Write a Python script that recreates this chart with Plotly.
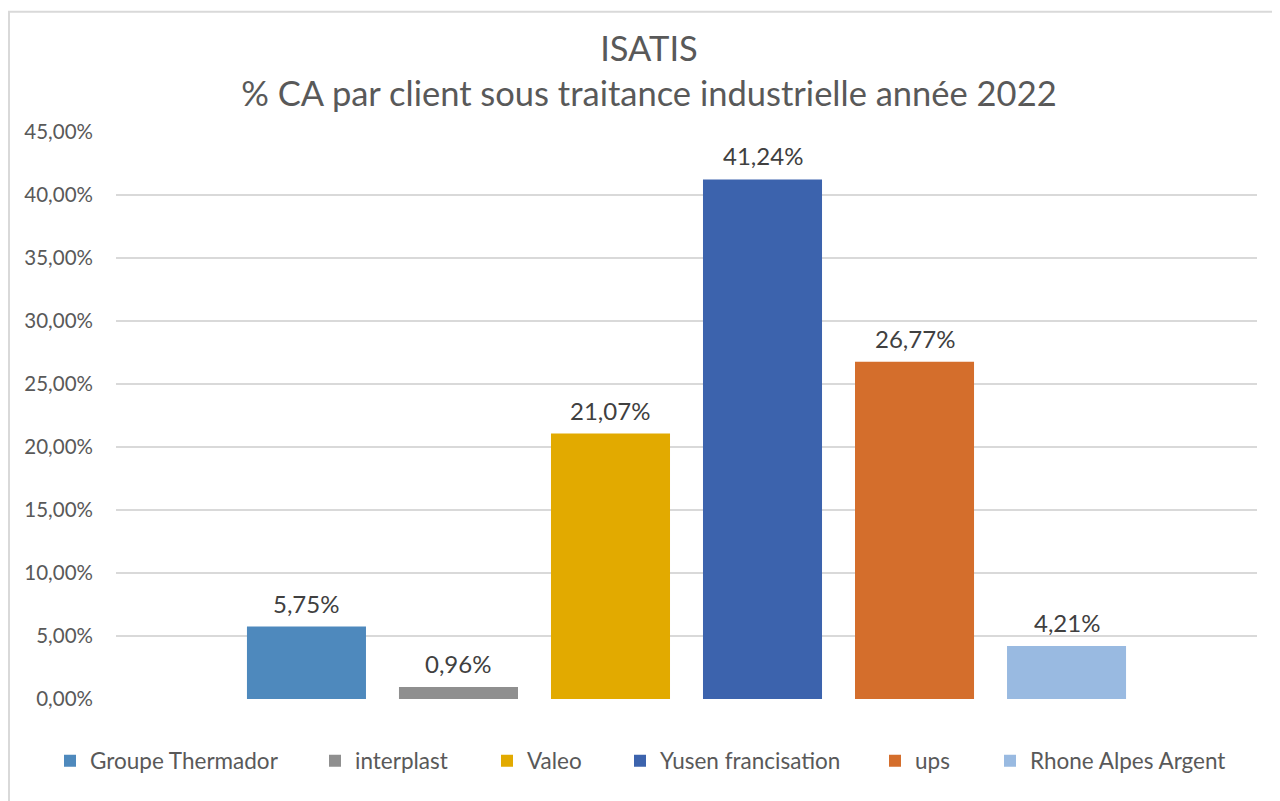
import plotly.graph_objects as go

clients = ["Groupe Thermador", "interplast", "Valeo", "Yusen francisation", "ups", "Rhone Alpes Argent"]
values = [0.0575, 0.0096, 0.2107, 0.4124, 0.2677, 0.0421]
labels = ["5,75%", "0,96%", "21,07%", "41,24%", "26,77%", "4,21%"]
colors = ["#4E89BD", "#8F8F8F", "#E2AA00", "#3C63AD", "#D46E2C", "#99BAE1"]
y_ticks = [0, 0.05, 0.10, 0.15, 0.20, 0.25, 0.30, 0.35, 0.40, 0.45]

# layout: legend text start positions (page pixels)
legend_text_px = [90, 355, 527, 660, 915, 1030]
OFF = 8  # body margin of the html page

FONT = "Lato"
TXT = "#595959"

fig = go.Figure()
legend_ids = ["legend"] + [f"legend{i}" for i in range(2, len(clients) + 1)]
for i, (c, v, col) in enumerate(zip(clients, values, colors)):
    fig.add_trace(go.Bar(
        x=[c], y=[v], name=c, marker=dict(color=col, line=dict(width=0)),
        legend=legend_ids[i], showlegend=True,
    ))
    fig.add_annotation(
        x=c, y=v, text=labels[i], showarrow=False, yanchor="bottom",
        yshift=7, font=dict(family=FONT, size=24, color="#404040"),
    )

layout_legends = {}
for i, lid in enumerate(legend_ids):
    layout_legends[lid] = dict(
        orientation="h", x=(legend_text_px[i] - OFF - 40) / 1280, xref="container",
        xanchor="left", y=1 - (761 - OFF) / 801, yref="container", yanchor="middle",
        font=dict(family=FONT, size=22.5, color=TXT), bgcolor="rgba(0,0,0,0)",
        borderwidth=0, itemwidth=30,
    )

fig.update_layout(
    width=1280, height=801,
    paper_bgcolor="white", plot_bgcolor="white",
    barmode="overlay", bargap=0.217,
    separators=", ",
    margin=dict(l=116 - OFF, r=1280 - (1257 - OFF), t=131.5 - OFF, b=801 - (699.5 - OFF)),
    title=dict(
        text="ISATIS<br>% CA par client sous traitance industrielle année 2022",
        x=(649 - OFF) / 1280, xref="container", xanchor="center",
        y=1 - 53 / 801, yref="container", yanchor="top",
        font=dict(family=FONT, size=34.5, color=TXT),
    ),
    xaxis=dict(
        categoryorder="array", categoryarray=clients,
        range=[-1.253, 6.253], showticklabels=False, showgrid=False,
        zeroline=False, showline=False, ticks="",
    ),
    yaxis=dict(
        range=[0, 0.45], tickvals=y_ticks, tickformat=".2%",
        showgrid=True, gridcolor="#D9D9D9", gridwidth=2,
        zeroline=False, showline=False, ticks="",
        ticklabelstandoff=22,
        tickfont=dict(family=FONT, size=20.5, color=TXT),
    ),
    **layout_legends,
    showlegend=True,
)

fig.add_shape(
    type="rect", xref="paper", yref="paper",
    x0=(9 - 116) / 1141, x1=(1300 - 116) / 1141,
    y0=(699.5 - 830) / 568, y1=(699.5 - 11) / 568,
    line=dict(color="#D9D9D9", width=2), fillcolor="rgba(0,0,0,0)", layer="below",
)

fig.write_html("out.html")
